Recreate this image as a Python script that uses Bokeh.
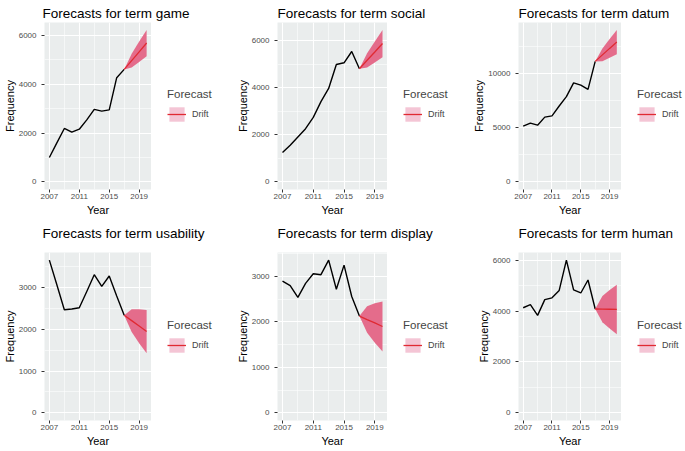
from bokeh.plotting import figure
from bokeh.models import Range1d, FixedTicker, Legend, LegendItem, Label
from bokeh.layouts import column, row
from bokeh.embed import file_html
from bokeh.resources import INLINE

# ---------------- data ----------------
years = [2007, 2008, 2009, 2010, 2011, 2012, 2013, 2014, 2015, 2016, 2017]
fc_years = [2017, 2018, 2019, 2020]
x_ticks = [2007, 2011, 2015, 2019]
x_minor = [2009, 2013, 2017]

game = [1000, 1600, 2190, 2040, 2160, 2540, 2970, 2900, 2950, 4270, 4610]
game_fc = [4610, 4970, 5330, 5690]
game_lo = [4610, 4690, 4910, 5150]
game_hi = [4610, 5250, 5750, 6220]

social = [1250, 1560, 1910, 2260, 2740, 3410, 3970, 4990, 5060, 5540, 4810]
social_fc = [4810, 5170, 5520, 5880]
social_lo = [4810, 4860, 5070, 5300]
social_hi = [4810, 5470, 5970, 6450]

datum = [5150, 5430, 5240, 5980, 6100, 7010, 7870, 9150, 8930, 8540, 11130]
datum_fc = [11130, 11730, 12330, 12920]
datum_lo = [11130, 11150, 11470, 11800]
datum_hi = [11130, 12320, 13200, 14020]

usability = [3660, 3070, 2470, 2490, 2520, 2910, 3310, 3030, 3280, 2800, 2340]
usability_fc = [2340, 2210, 2080, 1950]
usability_lo = [2340, 1940, 1670, 1430]
usability_hi = [2340, 2485, 2485, 2465]

display = [2900, 2800, 2540, 2850, 3060, 3040, 3360, 2720, 3250, 2560, 2130]
display_fc = [2130, 2050, 1980, 1900]
display_lo = [2130, 1760, 1540, 1350]
display_hi = [2130, 2345, 2410, 2450]

human = [4130, 4250, 3830, 4450, 4520, 4810, 6000, 4830, 4710, 5220, 4080]
human_fc = [4080, 4075, 4070, 4065]
human_lo = [4080, 3560, 3310, 3090]
human_hi = [4080, 4590, 4830, 5030]

ticks_6000 = [0, 2000, 4000, 6000]
minor_6000 = [1000, 3000, 5000, 7000]
ticks_10000 = [0, 5000, 10000]
minor_10000 = [2500, 7500, 12500]
ticks_3000 = [0, 1000, 2000, 3000]
minor_3000 = [500, 1500, 2500, 3500]

# ---------------- style ----------------
FONT = "Liberation Sans"
PANEL_BG = "#EAEDED"
BAND = "#E46C8B"
SWATCH = "#F4C5D5"
RED = "#E02A33"


def blank(width, height, xr, yr):
    return figure(width=width, height=height, x_range=xr, y_range=yr,
                  x_axis_type=None, y_axis_type=None,
                  output_backend="svg", toolbar_location=None,
                  min_border=0, outline_line_color=None,
                  background_fill_color="white", border_fill_color="white")


def panel(term, actual, fc, lo, hi, yt, ym, L, F, R, H, top, bottom):
    # --- title strip ---
    tf = blank(L + F + R, top, Range1d(0, L + F + R), Range1d(0, top))
    tf.add_layout(Label(x=L, y=top - 13.3, text="Forecasts for term " + term,
                        text_font=FONT, text_font_size="13.5px",
                        text_color="black", text_baseline="alphabetic",
                        text_align="left"))

    # --- plot ---
    ymax = max(max(actual), max(hi))
    yr = Range1d(-0.05 * ymax, 1.05 * ymax)
    xr = Range1d(2007 - 0.65, 2020 + 0.65)
    ph = H - top
    p = figure(width=L + F, height=ph, x_range=xr, y_range=yr,
               output_backend="svg", toolbar_location=None,
               min_border_left=L, min_border_right=0,
               min_border_top=0, min_border_bottom=bottom,
               background_fill_color=PANEL_BG, border_fill_color="white",
               outline_line_color=None)

    p.xaxis.ticker = FixedTicker(ticks=x_ticks, minor_ticks=x_minor)
    p.yaxis.ticker = FixedTicker(ticks=yt, minor_ticks=ym)
    p.xaxis.axis_label = "Year"
    p.yaxis.axis_label = "Frequency"
    for ax in (p.xaxis, p.yaxis):
        ax.axis_line_color = None
        ax.major_tick_line_color = "#333333"
        ax.major_tick_line_width = 1
        ax.major_tick_out = 3
        ax.major_tick_in = 0
        ax.minor_tick_out = 0
        ax.minor_tick_in = 0
        ax.major_label_text_font = FONT
        ax.major_label_text_font_size = "8px"
        ax.major_label_text_color = "#4D4D4D"
        ax.axis_label_text_font = FONT
        ax.axis_label_text_font_size = "11px"
        ax.axis_label_text_font_style = "normal"
        ax.axis_label_text_color = "black"
    p.xaxis.major_label_standoff = 1
    p.xaxis.axis_label_standoff = 2
    p.yaxis.major_label_standoff = 5
    p.yaxis.axis_label_standoff = 0

    p.grid.grid_line_color = "white"
    p.grid.grid_line_width = 1.1
    p.grid.minor_grid_line_color = "white"
    p.grid.minor_grid_line_width = 0.55

    p.line(years, actual, line_color="black", line_width=1.4)
    p.varea(x=fc_years, y1=lo, y2=hi, fill_color=BAND, fill_alpha=1.0)
    p.line(fc_years, fc, line_color=RED, line_width=1.3)

    # --- legend canvas to the right of the frame ---
    lg = blank(R, ph, Range1d(0, 1), Range1d(0, 1))
    # same forecast data, outside this canvas' view: only feeds the legend swatch
    sw = lg.varea(x=fc_years, y1=lo, y2=hi, fill_color=SWATCH, fill_alpha=1.0)
    sl = lg.line(fc_years, fc, line_color=RED, line_width=1.3)
    frame_h = ph - bottom
    leg = Legend(items=[LegendItem(label="Drift", renderers=[sw, sl])],
                 title="Forecast", location=(16, frame_h / 2 - 17.5),
                 orientation="vertical",
                 background_fill_alpha=0, border_line_color=None,
                 padding=0, margin=0, spacing=0,
                 glyph_width=19, glyph_height=18, label_standoff=6,
                 label_height=18,
                 label_text_font=FONT, label_text_font_size="9px",
                 title_text_font=FONT, title_text_font_size="11.5px",
                 title_text_font_style="normal", title_standoff=5)
    lg.add_layout(leg, "center")
    return column(tf, row(p, lg))


# column geometry: (left border, frame width, legend area width)
C1 = (42, 109, 74)
C2 = (52, 110, 68)
C3 = (63, 103, 64)
# row geometry: (height, top border, bottom border)
R1 = (220, 22, 31)
R2 = (230, 32, 30)

g1 = panel("game", game, game_fc, game_lo, game_hi, ticks_6000, minor_6000, *C1, *R1)
g2 = panel("social", social, social_fc, social_lo, social_hi, ticks_6000, minor_6000, *C2, *R1)
g3 = panel("datum", datum, datum_fc, datum_lo, datum_hi, ticks_10000, minor_10000, *C3, *R1)
g4 = panel("usability", usability, usability_fc, usability_lo, usability_hi, ticks_3000, minor_3000, *C1, *R2)
g5 = panel("display", display, display_fc, display_lo, display_hi, ticks_3000, minor_3000, *C2, *R2)
g6 = panel("human", human, human_fc, human_lo, human_hi, ticks_6000, minor_6000, *C3, *R2)

layout = column(row(g1, g2, g3), row(g4, g5, g6))
open("out.html", "w").write(file_html(layout, INLINE))
